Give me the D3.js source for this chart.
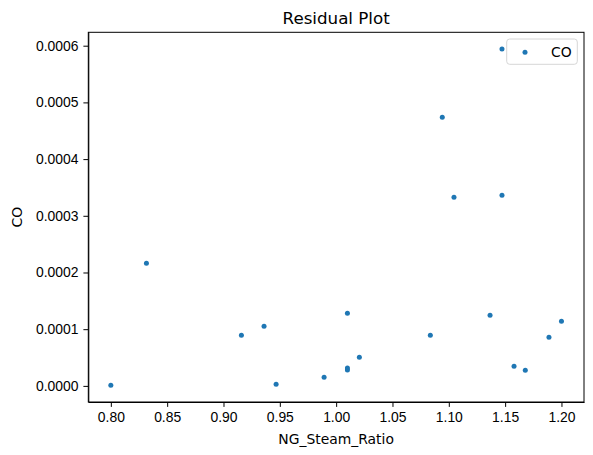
<!DOCTYPE html>
<html>
<head>
<meta charset="utf-8">
<script src="https://cdn.jsdelivr.net/npm/d3@7"></script>
<style>
  body { margin: 0; background: #fff; }
  svg { font-family: "DejaVu Sans", sans-serif; }
  .axis text { font-size: 13.9px; fill: #000; }
  .axis path, .axis line { stroke: #000; stroke-width: 1; }
</style>
</head>
<body>
<svg></svg>
<script>
// residuals
var ratio = [0.800, 0.8316, 0.9159, 0.936, 0.9467, 0.9893, 1.010, 1.010, 1.010, 1.0206,
             1.0836, 1.0942, 1.1046, 1.1366, 1.1472, 1.1472, 1.1579, 1.1679, 1.1889, 1.200];
var co = [0.0000012, 0.0002164, 0.0000894, 0.0001053, 0.000003, 0.0000153, 0.0001282, 0.0000317, 0.0000282, 0.0000506,
          0.0000894, 0.0004739, 0.0003328, 0.0001247, 0.000594, 0.0003363, 0.0000347, 0.0000277, 0.0000859, 0.0001141];
var xTicks = [0.80, 0.85, 0.90, 0.95, 1.00, 1.05, 1.10, 1.15, 1.20];
var yTicks = [0, 0.0001, 0.0002, 0.0003, 0.0004, 0.0005, 0.0006];
var seriesName = "CO";

var width = 593, height = 455;
var padding = { top: 32.3, right: 9, bottom: 53, left: 88.3 };

var data = ratio.map((d, i) => ({ x: d, y: co[i] }));

// matplotlib style 5% margins
function padded(ext) {
  var m = (ext[1] - ext[0]) * 0.05;
  return [ext[0] - m, ext[1] + m];
}

var xScale = d3.scaleLinear()
  .domain(padded(d3.extent(ratio)))
  .range([padding.left, width - padding.right]);

var yScale = d3.scaleLinear()
  .domain(padded(d3.extent(co)))
  .range([height - padding.bottom, padding.top]);

var svg = d3.select("svg")
  .attr("width", width)
  .attr("height", height);

svg.append("g")
  .classed("axis", true)
  .attr("transform", "translate(0, " + (height - padding.bottom) + ")")
  .call(d3.axisBottom(xScale).tickValues(xTicks).tickFormat(d3.format(".2f")).tickSize(4.9).tickPadding(4.9).tickSizeOuter(0));

svg.append("g")
  .classed("axis", true)
  .attr("transform", "translate(" + padding.left + ", 0)")
  .call(d3.axisLeft(yScale).tickValues(yTicks).tickFormat(d3.format(".4f")).tickSize(4.9).tickPadding(4.9).tickSizeOuter(0));

// frame
svg.append("rect")
  .attr("x", padding.left)
  .attr("y", padding.top)
  .attr("width", width - padding.left - padding.right)
  .attr("height", height - padding.top - padding.bottom)
  .attr("fill", "none")
  .attr("stroke", "#000")
  .attr("stroke-width", 1);

svg.selectAll("circle.pt")
  .data(data)
  .enter()
  .append("circle")
    .classed("pt", true)
    .attr("r", 2.5)
    .attr("fill", "#1f77b4")
    .attr("cx", d => xScale(d.x))
    .attr("cy", d => yScale(d.y));

// title and labels
svg.append("text")
  .attr("x", (padding.left + width - padding.right) / 2)
  .attr("y", 24)
  .attr("text-anchor", "middle")
  .style("font-size", "16.7px")
  .text("Residual Plot");

svg.append("text")
  .attr("x", (padding.left + width - padding.right) / 2)
  .attr("y", 443.5)
  .attr("text-anchor", "middle")
  .style("font-size", "13.9px")
  .text("NG_Steam_Ratio");

svg.append("text")
  .attr("transform", "rotate(-90)")
  .attr("x", -(padding.top + height - padding.bottom) / 2)
  .attr("y", 21.5)
  .attr("text-anchor", "middle")
  .style("font-size", "13.9px")
  .text(seriesName);

// legend
var legend = svg.append("g").attr("transform", "translate(506.7, 39)");
legend.append("rect")
  .attr("width", 70.6)
  .attr("height", 25.3)
  .attr("rx", 3)
  .attr("fill", "#fff")
  .attr("fill-opacity", 0.8)
  .attr("stroke", "#d6d6d6");
legend.append("circle")
  .attr("cx", 18.3)
  .attr("cy", 13.3)
  .attr("r", 2.5)
  .attr("fill", "#1f77b4");
legend.append("text")
  .attr("x", 44.3)
  .attr("y", 18)
  .style("font-size", "13.9px")
  .text(seriesName);
</script>
</body>
</html>
